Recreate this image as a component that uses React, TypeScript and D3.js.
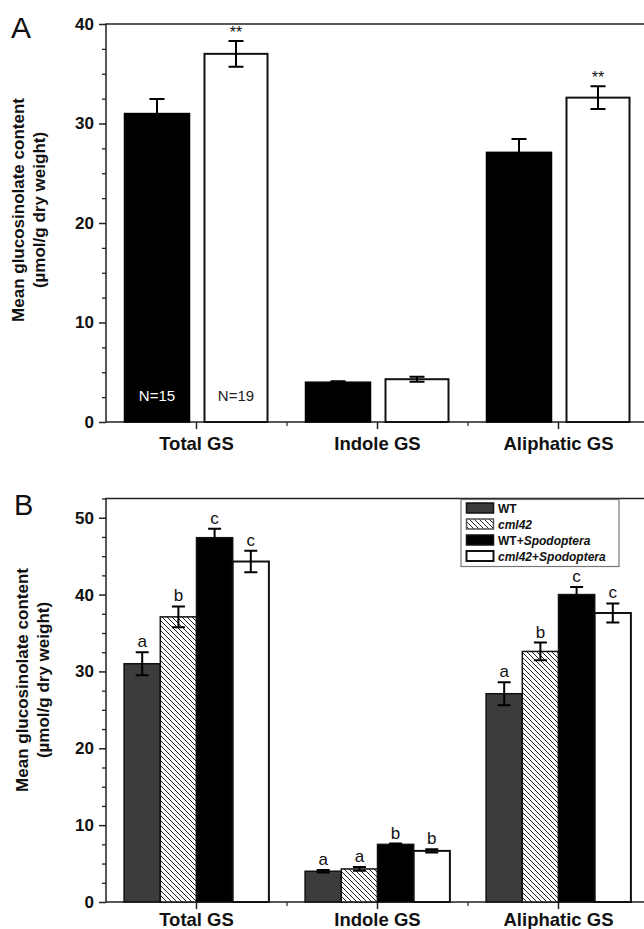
import { useEffect, useRef } from "react";
import * as d3 from "d3";

const categories = ["Total GS", "Indole GS", "Aliphatic GS"];

// panel A: WT (black) vs cml42 (white)
const aWT = [31.0, 4.0, 27.1];
const aWTErr = [1.45, 0.1, 1.35];
const aCml42 = [37.0, 4.3, 32.6];
const aCml42Err = [1.3, 0.25, 1.15];
const aStars = ["**", "", "**"];
const aNLabels = ["N=15", "N=19"];
const aTicks = [0, 10, 20, 30, 40];

// panel B: four treatments
const bSeries = ["WT", "cml42", "WT+Spodoptera", "cml42+Spodoptera"];
const bWT = [31.0, 4.0, 27.1];
const bWTErr = [1.5, 0.15, 1.5];
const bCml42 = [37.1, 4.3, 32.6];
const bCml42Err = [1.35, 0.25, 1.15];
const bWTSpod = [47.4, 7.5, 40.0];
const bWTSpodErr = [1.15, 0.1, 1.0];
const bCml42Spod = [44.3, 6.65, 37.6];
const bCml42SpodErr = [1.4, 0.2, 1.25];
const bLetters = [
  ["a", "a", "a"],
  ["b", "a", "b"],
  ["c", "b", "c"],
  ["c", "b", "c"],
];
const bTicks = [0, 10, 20, 30, 40, 50];

const font = "'Liberation Sans', Arial, sans-serif";

export default function App() {
  const ref = useRef<SVGSVGElement>(null);

  useEffect(() => {
    const svg = d3.select(ref.current);
    svg.selectAll("*").remove();

    // hatch for cml42
    svg
      .append("defs")
      .append("pattern")
      .attr("id", "hatch")
      .attr("patternUnits", "userSpaceOnUse")
      .attr("width", 5)
      .attr("height", 5)
      .call((p) => {
        p.append("rect").attr("width", 5).attr("height", 5).attr("fill", "#fff");
        p.append("path")
          .attr("d", "M0,0L5,5M-1,4L1,6M4,-1L6,1")
          .attr("stroke", "#222")
          .attr("stroke-width", 1);
      });

    const x = d3.scaleBand().domain(categories).range([106, 649]);
    const cx = (c: string) => (x(c) as number) + x.bandwidth() / 2;

    function frame(y: d3.ScaleLinear<number, number>, top: number, bottom: number, ticks: number[], max: number, label1X: number, label2X: number, labelY: number, xLabelY: number) {
      const g = svg.append("g").attr("font-family", font);

      const minor = d3.range(0, max + 0.01, 2.5).filter((v) => v % 10 !== 0);
      g.append("g")
        .attr("transform", "translate(106,0)")
        .call(d3.axisLeft(y).tickValues(minor).tickSize(4).tickFormat(() => ""))
        .call((a) => a.select(".domain").remove())
        .selectAll("line")
        .attr("stroke", "#222")
        .attr("stroke-width", 1.3);

      const major = g
        .append("g")
        .attr("transform", "translate(106,0)")
        .call(d3.axisLeft(y).tickValues(ticks).tickSize(7).tickPadding(5).tickFormat(d3.format("d")));
      major.select(".domain").remove();
      major.selectAll("line").attr("stroke", "#222").attr("stroke-width", 1.5);
      major
        .selectAll("text")
        .attr("font-family", font)
        .attr("font-size", 17)
        .attr("font-weight", "bold")
        .attr("fill", "#111");

      // frame lines
      g.append("path")
        .attr("d", `M106,${top}V${bottom}H649V${top}Z`)
        .attr("fill", "none")
        .attr("stroke", "#222")
        .attr("stroke-width", 1.5);

      // x ticks
      g.selectAll(".ct")
        .data(categories)
        .enter()
        .append("line")
        .attr("x1", (d) => cx(d))
        .attr("x2", (d) => cx(d))
        .attr("y1", bottom)
        .attr("y2", bottom + 7)
        .attr("stroke", "#222")
        .attr("stroke-width", 1.5);
      g.selectAll(".bt")
        .data(categories.slice(1))
        .enter()
        .append("line")
        .attr("x1", (d) => x(d) as number)
        .attr("x2", (d) => x(d) as number)
        .attr("y1", bottom)
        .attr("y2", bottom + 4)
        .attr("stroke", "#222")
        .attr("stroke-width", 1.2);

      g.selectAll(".xl")
        .data(categories)
        .enter()
        .append("text")
        .attr("x", (d) => cx(d))
        .attr("y", xLabelY)
        .attr("text-anchor", "middle")
        .attr("font-size", 18.5)
        .attr("font-weight", "bold")
        .attr("fill", "#111")
        .text((d) => d);

      // y label
      const yl = g.append("g").attr("font-size", 17).attr("font-weight", "bold").attr("fill", "#111").attr("text-anchor", "middle");
      yl.append("text")
        .attr("transform", `translate(${label1X},${labelY}) rotate(-90)`)
        .text("Mean glucosinolate content");
      yl.append("text")
        .attr("transform", `translate(${label2X},${labelY}) rotate(-90)`)
        .text("(µmol/g dry weight)");
      return g;
    }

    function errorBar(g: d3.Selection<SVGGElement, unknown, null, undefined>, y: d3.ScaleLinear<number, number>, xc: number, m: number, e: number, cap: number) {
      g.append("path")
        .attr("d", `M${xc},${y(m - e)}V${y(m + e)}M${xc - cap / 2},${y(m + e)}H${xc + cap / 2}M${xc - cap / 2},${y(m - e)}H${xc + cap / 2}`)
        .attr("fill", "none")
        .attr("stroke", "#000")
        .attr("stroke-width", 2);
    }

    // ---------- Panel A ----------
    const yA = d3.scaleLinear().domain([0, 40]).range([422, 24]);
    const gA = frame(yA, 24, 422, aTicks, 40, 24, 45, 210, 450);
    svg.append("text").attr("x", 11).attr("y", 38).attr("font-family", font).attr("font-size", 30).attr("fill", "#111").text("A");

    const aBarW = 65;
    categories.forEach((c, i) => {
      const xc = cx(c);
      const x0 = xc - 72;
      const x1 = xc + 7;
      gA.append("rect")
        .attr("x", x0)
        .attr("y", yA(aWT[i]))
        .attr("width", aBarW)
        .attr("height", yA(0) - yA(aWT[i]))
        .attr("fill", "#000")
        .attr("stroke", "#000")
        .attr("stroke-width", 1.5);
      gA.append("rect")
        .attr("x", x1 + 1)
        .attr("y", yA(aCml42[i]))
        .attr("width", aBarW - 2)
        .attr("height", yA(0) - yA(aCml42[i]))
        .attr("fill", "#fff")
        .attr("stroke", "#111")
        .attr("stroke-width", 2);
      errorBar(gA, yA, x0 + aBarW / 2, aWT[i], aWTErr[i], 15);
      errorBar(gA, yA, x1 + aBarW / 2, aCml42[i], aCml42Err[i], 15);
      if (aStars[i]) {
        gA.append("text")
          .attr("x", x1 + aBarW / 2)
          .attr("y", yA(aCml42[i] + aCml42Err[i]) - 3)
          .attr("text-anchor", "middle")
          .attr("font-size", 16)
          .attr("fill", "#111")
          .text(aStars[i]);
      }
      if (i === 0) {
        gA.append("text")
          .attr("x", x0 + aBarW / 2)
          .attr("y", 401)
          .attr("text-anchor", "middle")
          .attr("font-size", 15)
          .attr("fill", "#fff")
          .text(aNLabels[0]);
        gA.append("text")
          .attr("x", x1 + aBarW / 2)
          .attr("y", 401)
          .attr("text-anchor", "middle")
          .attr("font-size", 15)
          .attr("fill", "#222")
          .text(aNLabels[1]);
      }
    });

    // ---------- Panel B ----------
    const yB = d3.scaleLinear().domain([0, 52.5]).range([902, 498.5]);
    const gB = frame(yB, 498.5, 902, bTicks, 52.5, 28, 49, 680, 926);
    svg.append("text").attr("x", 14).attr("y", 515).attr("font-family", font).attr("font-size", 29).attr("fill", "#111").text("B");

    const bMeans = [bWT, bCml42, bWTSpod, bCml42Spod];
    const bErrs = [bWTErr, bCml42Err, bWTSpodErr, bCml42SpodErr];
    const bFills = ["#3c3c3c", "url(#hatch)", "#000", "#fff"];
    const bBarW = 36.2;
    categories.forEach((c, i) => {
      const start = cx(c) - bBarW * 2;
      bMeans.forEach((s, k) => {
        gB.append("rect")
          .attr("x", start + k * bBarW)
          .attr("y", yB(s[i]))
          .attr("width", bBarW)
          .attr("height", yB(0) - yB(s[i]))
          .attr("fill", bFills[k])
          .attr("stroke", "#111")
          .attr("stroke-width", k === 3 ? 2 : 1.5);
      });
      bMeans.forEach((s, k) => {
        const xc = start + k * bBarW + bBarW / 2;
        errorBar(gB, yB, xc, s[i], bErrs[k][i], 13);
        gB.append("text")
          .attr("x", xc)
          .attr("y", yB(s[i] + bErrs[k][i]) - 5)
          .attr("text-anchor", "middle")
          .attr("font-size", 17)
          .attr("fill", "#111")
          .text(bLetters[k][i]);
      });
    });

    // legend
    const lg = svg.append("g").attr("font-family", font);
    lg.append("rect")
      .attr("x", 461)
      .attr("y", 499.5)
      .attr("width", 158)
      .attr("height", 67)
      .attr("fill", "#fff")
      .attr("stroke", "#777")
      .attr("stroke-width", 1.2);
    const legendParts: [string, boolean][][] = [
      [["WT", false]],
      [["cml42", true]],
      [["WT+", false], ["Spodoptera", true]],
      [["cml42", true], ["+", false], ["Spodoptera", true]],
    ];
    bSeries.forEach((_, k) => {
      const cy = 508 + k * 16;
      lg.append("rect")
        .attr("x", 466.5)
        .attr("y", cy - 5)
        .attr("width", 27)
        .attr("height", 10)
        .attr("fill", bFills[k])
        .attr("stroke", k === 1 ? "#555" : "#111")
        .attr("stroke-width", k === 3 ? 2 : 1.5);
      const t = lg
        .append("text")
        .attr("x", 498)
        .attr("y", cy + 4.5)
        .attr("font-size", 12)
        .attr("font-weight", "bold")
        .attr("fill", "#111");
      legendParts[k].forEach(([s, it]) => {
        t.append("tspan").attr("font-style", it ? "italic" : "normal").text(s);
      });
    });
  }, []);

  return (
    <svg
      ref={ref}
      width={644}
      height={929}
      style={{ position: "absolute", left: 0, top: 0, background: "#fff" }}
    />
  );
}
